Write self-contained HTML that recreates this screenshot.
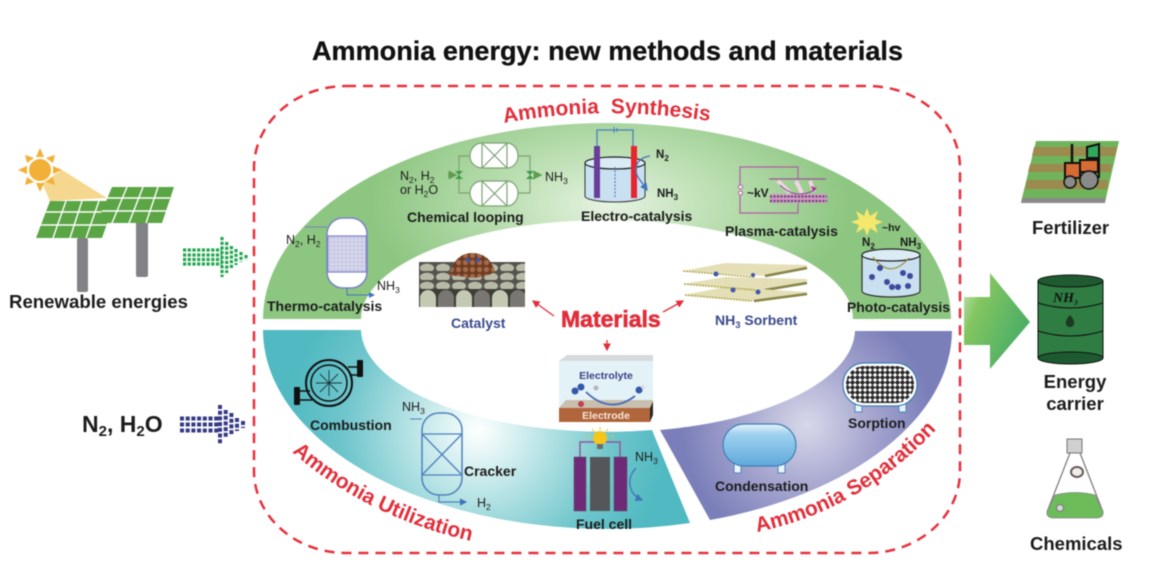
<!DOCTYPE html>
<html><head><meta charset="utf-8"><style>
html,body{margin:0;padding:0;background:#fff;width:1153px;height:579px;overflow:hidden}
svg{display:block;filter:blur(.4px)}
text{font-family:"Liberation Sans",sans-serif;fill:#1c1c1c}
.b{font-weight:700;font-size:14px}
.n{font-size:12.5px;font-weight:400}
.r{font-weight:700;fill:#e02f3b;font-size:21px}
.navy{fill:#3a4a8c;font-weight:700;font-size:14px}
.big{font-weight:700;font-size:18.5px}
</style></head><body>
<svg width="1153" height="579" viewBox="0 0 1153 579" xmlns="http://www.w3.org/2000/svg">
<defs>
<radialGradient id="gG" gradientUnits="userSpaceOnUse" cx="610" cy="205" r="240" gradientTransform="matrix(1 0 0 .5 0 102)"><stop offset="0" stop-color="#e6f3e2"/><stop offset=".4" stop-color="#c0e1b7"/><stop offset="1" stop-color="#8dc681"/></radialGradient>
<radialGradient id="gT" gradientUnits="userSpaceOnUse" cx="478" cy="430" r="190"><stop offset="0" stop-color="#fff"/><stop offset=".25" stop-color="#cdeced"/><stop offset=".7" stop-color="#70c6cc"/><stop offset="1" stop-color="#50b9c1"/></radialGradient>
<radialGradient id="gP" gradientUnits="userSpaceOnUse" cx="807" cy="425" r="125"><stop offset="0" stop-color="#d8d8ea"/><stop offset=".5" stop-color="#a7a7d0"/><stop offset="1" stop-color="#7b7fb9"/></radialGradient>
<linearGradient id="gA" x1="0" y1="0" x2="1" y2=".6"><stop offset="0" stop-color="#cfe8c4"/><stop offset=".3" stop-color="#84c560"/><stop offset="1" stop-color="#45ac67"/></linearGradient>
<linearGradient id="gC" x1="0" y1="0" x2="0" y2="1"><stop offset="0" stop-color="#e8f4fb"/><stop offset=".25" stop-color="#9fd0ef"/><stop offset="1" stop-color="#5fa9dc"/></linearGradient>
<pattern id="dots" width="5" height="5" patternUnits="userSpaceOnUse"><rect width="5" height="5" fill="#fff"/><circle cx="2.5" cy="2.5" r="2.1" fill="#2b2b2b"/><rect x="0" y="2" width="5" height="1" fill="#2b2b2b"/><rect x="2" y="0" width="1" height="5" fill="#2b2b2b"/></pattern>
<pattern id="cat1" width="36" height="18" patternUnits="userSpaceOnUse" x="419" y="289"><rect width="36" height="18" fill="#3f3d38"/><path d="M1,18V9a8,8 0 0 1 16,0V18Z" fill="#c4c9b3"/><path d="M19,18V9a8,8 0 0 1 16,0V18Z" fill="#7a7672"/></pattern>
<pattern id="cat2" width="16" height="9" patternUnits="userSpaceOnUse" x="419" y="262"><rect width="16" height="9" fill="#55534d"/><ellipse cx="8" cy="6" rx="7" ry="4.400" fill="#b8baa8"/></pattern>
<pattern id="cu" width="7" height="7" patternUnits="userSpaceOnUse"><rect width="7" height="7" fill="#6d3d22"/><circle cx="3.5" cy="3.5" r="2.6" fill="#a5694a"/></pattern>
<pattern id="hatch" width="4" height="4" patternUnits="userSpaceOnUse"><rect width="4" height="4" fill="#d3d3ea"/><circle cx="2" cy="2" r="1" fill="#bfc0df"/></pattern>
<marker id="aB" markerWidth="7" markerHeight="7" refX="5" refY="3" orient="auto"><path d="M0,0L6,3L0,6z" fill="#3f74bb"/></marker>
<marker id="aR" markerWidth="7" markerHeight="7" refX="5" refY="3" orient="auto"><path d="M0,0L6,3L0,6z" fill="#e02f3b"/></marker>
<marker id="aG" markerWidth="7" markerHeight="7" refX="5" refY="3" orient="auto"><path d="M0,0L6,3L0,6z" fill="#5f9c4f"/></marker>
<path id="pS" d="M504,123 Q606,104 716,122"/>
<path id="pU" d="M292,452 Q370,520 480,543"/>
<path id="pP" d="M757,532 Q865,510 945,420"/>
</defs>

<text x="312" y="60" font-size="27" font-weight="700" textLength="591" lengthAdjust="spacingAndGlyphs" style="fill:#111;stroke:#111;stroke-width:.3">Ammonia energy: new methods and materials</text>

<rect x="254" y="86" width="706" height="467" rx="92" ry="82" fill="none" stroke="#e8303c" stroke-width="2.5" stroke-dasharray="10 7"/>

<!-- ring -->
<path d="M263,319 A344,196 0 0 1 951,319 L853,319 A246,99 0 0 0 361,319 Z" fill="url(#gG)"/>
<path d="M263,330 A344,199 0 0 0 690,523 L652,430 A246,103 0 0 1 361,330 Z" fill="url(#gT)"/>
<path d="M855,331 L952,331 A344,199 0 0 1 710,520 L660,430 A246,103 0 0 0 855,331 Z" fill="url(#gP)"/>

<text class="r"><textPath href="#pS" startOffset="0">Ammonia&#160;&#160;Synthesis</textPath></text>
<text class="r"><textPath href="#pU">Ammonia Utilization</textPath></text>
<text class="r"><textPath href="#pP">Ammonia Separation</textPath></text>

<!-- solar -->
<rect x="77" y="238" width="11" height="54" rx="2" fill="#808285"/>
<rect x="136" y="222" width="12" height="55" rx="2" fill="#808285"/>
<polygon points="50,201 115,201 102,238 36,238" fill="#5ba545"/>
<path d="M46,212H112M41,225H108M66,201L53,238M82,201L70,238M99,201L86,238" stroke="#fff" stroke-width="1.4"/>
<polygon points="42,183 62,170 107,198 50,201" fill="#f5d78f"/>
<polygon points="112,187 174,187 162,223 97,223" fill="#5ba545"/>
<path d="M107,198H170M102,211H166M127,187L112,223M143,187L129,223M158,187L146,223" stroke="#fff" stroke-width="1.4"/>
<g fill="#f2b038">
<circle cx="40" cy="170" r="11"/>
<polygon points="36,157 40,148 44,157"/><polygon points="36,183 40,192 44,183"/>
<polygon points="27,166 18,170 27,174"/><polygon points="53,166 62,170 53,174"/>
<polygon points="27,163 25,155 34,158"/><polygon points="53,163 55,155 46,158"/>
<polygon points="27,177 25,185 34,182"/><polygon points="53,177 55,185 46,182"/>
</g>
<text x="9" y="308" font-size="18" font-weight="700" textLength="179" lengthAdjust="spacingAndGlyphs">Renewable energies</text>

<!-- dotted arrows -->
<g stroke="#22a650" stroke-width="3.2" stroke-dasharray="3.2 1.5" fill="none">
<path d="M183,250H222M183,255H222M183,259.5H222M183,264H222"/>
<path d="M222,237V277M226.7,242V273M231.4,246V269M236,249V265M241,252V262M246,255V260"/>
</g>
<g stroke="#353a85" stroke-width="4" stroke-dasharray="4 1.7" fill="none">
<path d="M180,418.5H220M180,424.5H220M180,430.5H220"/>
<path d="M220,405V444M225.7,410V438M231.4,413V435M237,418V431M243,421V428"/>
</g>
<text x="82" y="432" font-size="23" font-weight="700">N<tspan font-size="15" dy="4">2</tspan><tspan dy="-4">, H</tspan><tspan font-size="15" dy="4">2</tspan><tspan dy="-4">O</tspan></text>

<!-- thermo -->
<path d="M305,227H327" stroke="#7a83c4" fill="none"/>
<rect x="327" y="218" width="40" height="70" rx="16" fill="#fff" stroke="#7a83c4" stroke-width="1.5"/>
<rect x="327.7" y="236" width="38.6" height="36" fill="url(#hatch)" stroke="#7a83c4" stroke-width="1.2"/>
<path d="M347,288V295H374" stroke="#3f74bb" fill="none" marker-end="url(#aB)"/>
<text class="n" x="286" y="244">N<tspan font-size="8.5" dy="3">2</tspan><tspan dy="-3">, H</tspan><tspan font-size="8.5" dy="3">2</tspan></text>
<text class="n" x="377" y="290">NH<tspan font-size="8.5" dy="3">3</tspan></text>
<text class="b" x="267" y="311">Thermo-catalysis</text>

<!-- chemical looping -->
<g fill="#fff" stroke="#7da373" stroke-width="1.2">
<path d="M470,156a12,13 0 0 1 12,-13H507a11,13 0 0 1 11,13a11,12 0 0 1 -11,12H482a12,12 0 0 1 -12,-12Z"/>
<path d="M470,193a12,12 0 0 1 12,-12H507a11,12 0 0 1 11,12a11,13 0 0 1 -11,13H482a12,13 0 0 1 -12,-13Z"/>
<path d="M482,143V168M507,143V168M482,143L507,168M507,143L482,168M482,181V206M507,181V206M482,181L507,206M507,181L482,206" fill="none"/>
<path d="M470,156H459V193H470M518,156H530V193H518" fill="none"/>
</g>
<path d="M448,175H456" stroke="#7da373" stroke-width="1.5" marker-end="url(#aG)"/>
<path d="M536,175H541" stroke="#5f9c4f" stroke-width="1.5" marker-end="url(#aG)"/>
<path d="M455,171L463,171L455,179L463,179ZM526,171L534,171L526,179L534,179Z" fill="#3f9a4b"/>
<text class="n" x="400" y="180">N<tspan font-size="8.5" dy="3">2</tspan><tspan dy="-3">, H</tspan><tspan font-size="8.5" dy="3">2</tspan></text>
<text class="n" x="400" y="194">or H<tspan font-size="8.5" dy="3">2</tspan><tspan dy="-3">O</tspan></text>
<text class="n" x="545" y="181">NH<tspan font-size="8.5" dy="3">3</tspan></text>
<text class="b" x="407" y="222">Chemical looping</text>

<!-- electro -->
<path d="M585,163V196a30,6 0 0 0 60,0V163Z" fill="#c9e0f0" stroke="#333" stroke-width="1"/>
<ellipse cx="615" cy="163" rx="30" ry="6" fill="#d9ebf5" stroke="#222" stroke-width="1.2"/>
<path d="M615,167V198" stroke="#3f74bb" stroke-dasharray="2 1.5"/>
<path d="M597,146V130H633V146" fill="none" stroke="#4a7fc0" stroke-width="1.3"/>
<path d="M614,127V133M617,128V132" stroke="#4a7fc0" stroke-width="1"/>
<rect x="594" y="146" width="6" height="52" fill="#6a3d9a"/>
<rect x="631" y="146" width="6" height="52" fill="#e6262e"/>
<path d="M650,156C636,158 632,170 640,180L647,190" fill="none" stroke="#3f74bb" stroke-width="1.3" marker-end="url(#aB)"/>
<text x="656" y="158" font-size="11.5" font-weight="700">N<tspan font-size="8" dy="3">2</tspan></text>
<text x="657" y="197" font-size="11.5" font-weight="700">NH<tspan font-size="8" dy="3">3</tspan></text>
<text class="b" x="581" y="221">Electro-catalysis</text>

<!-- plasma -->
<path d="M740,185V167H798V179M740,195V213H798V203" fill="none" stroke="#b45ea8" stroke-width="1.2"/>
<circle cx="740.5" cy="187" r="2" fill="#fff" stroke="#b45ea8"/><circle cx="740.5" cy="193" r="2" fill="#fff" stroke="#b45ea8"/>
<path d="M769,179H826" stroke="#a0569c" stroke-width="1.3"/>
<rect x="770" y="194" width="57" height="9" fill="#d294c8"/>
<path d="M770,196.5H827M770,201H827" stroke="#5a4a5c" stroke-width="2" stroke-dasharray="2 1.5"/>
<path d="M778,181L790,193M796,181L802,193M810,181L814,192" stroke="#f3d5e5" stroke-width="4"/>
<path d="M780,185Q795,200 815,190" fill="none" stroke="#8c4f94" stroke-width="1"/>
<polygon points="811,186 817,188 813,192" fill="#a83f9c"/>
<text x="747" y="197" font-size="12" font-weight="700">~kV</text>
<text class="b" x="725" y="236">Plasma-catalysis</text>

<!-- photo -->
<polygon points="867,208 870,216 878,211 875,219 883,222 875,225 878,233 870,228 867,236 864,228 856,233 859,225 851,222 859,219 856,211 864,216" fill="#f5e76c"/>
<text x="882" y="231" font-size="10.5" font-weight="700">~hv</text>
<path d="M862,255V291a29,6 0 0 0 58,0V255Z" fill="#c9e0f0" stroke="#333" stroke-width="1.2"/>
<ellipse cx="891" cy="255" rx="29" ry="6" fill="#dcecf5" stroke="#222" stroke-width="1.2"/>
<path d="M873,257Q890,280 909,258" fill="none" stroke="#9a8f3a" stroke-width="1.2"/>
<g fill="#3e4a9e"><circle cx="880" cy="268" r="3"/><circle cx="872" cy="277" r="3"/><circle cx="887" cy="282" r="3"/><circle cx="892" cy="287" r="3"/><circle cx="898" cy="287" r="3"/><circle cx="903" cy="273" r="3"/><circle cx="910" cy="276" r="3"/><circle cx="908" cy="286" r="3"/></g>
<text x="862" y="246" font-size="11.5" font-weight="700">N<tspan font-size="8" dy="3">2</tspan></text>
<text x="900" y="246" font-size="11.5" font-weight="700">NH<tspan font-size="8" dy="3">3</tspan></text>
<text class="b" x="847" y="312" textLength="103" lengthAdjust="spacingAndGlyphs">Photo-catalysis</text>

<!-- centre -->
<rect x="419" y="262" width="106" height="27" fill="url(#cat2)"/>
<rect x="419" y="289" width="106" height="18" fill="url(#cat1)"/>
<path d="M449,275Q455,253 472,253Q490,253 495,272Q480,280 465,277Z" fill="url(#cu)"/>
<circle cx="468" cy="260" r="2" fill="#3b55b8"/><circle cx="478" cy="260" r="2" fill="#3b55b8"/>
<text class="navy" x="451" y="328">Catalyst</text>
<text x="561" y="327" font-size="23" font-weight="700" style="fill:#e02f3b;stroke:#e02f3b;stroke-width:.6">Materials</text>
<path d="M554,316L533,301" stroke="#e02f3b" stroke-width="1.3" marker-end="url(#aR)"/>
<path d="M663,312L683,301" stroke="#e02f3b" stroke-width="1.3" marker-end="url(#aR)"/>
<path d="M607,340V350" stroke="#e02f3b" stroke-width="1.3" marker-end="url(#aR)"/>
<g>
<polygon points="683,271 725,263 807,265 807,268 765,276" fill="#e4dfb6"/><path d="M765,276L807,268" stroke="#86854a" stroke-width="2.5"/>
<polygon points="683,284 725,277 807,279 807,282 765,290" fill="#e4dfb6"/><path d="M765,290L807,283" stroke="#86854a" stroke-width="2.5"/>
<polygon points="684,295 725,287 807,292 807,295 755,301" fill="#e4dfb6"/><path d="M754,301L807,294" stroke="#86854a" stroke-width="2.5"/>
<path d="M683,271L755,277M684,284L755,290M685,295L752,301" stroke="#b3a94e" stroke-width="1.6" stroke-dasharray="2 1"/>
<g fill="#3e5aa8"><circle cx="716" cy="274" r="2.5"/><circle cx="753" cy="275" r="2"/><circle cx="733" cy="290" r="2.5"/><circle cx="758" cy="292" r="2.5"/></g>
</g>
<text class="navy" x="715" y="325">NH<tspan font-size="9.5" dy="3">3</tspan><tspan dy="-3"> Sorbent</tspan></text>

<polygon points="559,361 567,355 653,355 653,401 559,408" fill="#e3f2f6"/>
<polygon points="559,361 567,355 653,355 653,361" fill="#d6dadd"/>
<polygon points="566,400 653,400 650,408 559,408" fill="#c9bfae"/>
<polygon points="559,408 650,408 650,422 559,422" fill="#b0663a"/>
<polygon points="650,408 653,401 653,415 650,422" fill="#2a2622"/>
<text x="606" y="379" font-size="10.5" font-weight="700" text-anchor="middle" style="fill:#3b4288">Electrolyte</text>
<text x="606" y="419" font-size="10.5" font-weight="700" text-anchor="middle" style="fill:#f4e6da">Electrode</text>
<path d="M586,392Q610,415 635,396" fill="none" stroke="#4a6cb5" stroke-width="1.8"/>
<circle cx="575" cy="391" r="3.5" fill="#3558aa"/><circle cx="581" cy="387" r="3.5" fill="#3558aa"/>
<circle cx="596" cy="388" r="2.5" fill="#b5b5b5"/><circle cx="581" cy="404" r="3" fill="#c24050"/>
<circle cx="639" cy="390" r="3.5" fill="#3558aa"/><circle cx="643" cy="387" r="2" fill="#ddd"/>

<!-- combustion -->
<rect x="294" y="387" width="6" height="18" rx="1" fill="#111"/><rect x="357" y="360" width="6" height="17" rx="1" fill="#111"/>
<path d="M300,391H310M300,400H312M348,367H357M350,375H357" stroke="#111" stroke-width="1.5"/>
<circle cx="329" cy="383" r="23" fill="none" stroke="#111" stroke-width="2"/>
<circle cx="329" cy="383" r="18" fill="none" stroke="#111" stroke-width="1.5"/>
<path d="M329,370V396M316,383H342M320,374L338,392M338,374L320,392" stroke="#1c3a3c" stroke-width=".9"/>
<text class="b" x="310" y="430">Combustion</text>

<!-- cracker -->
<rect x="422" y="413" width="40" height="82" rx="17" fill="none" stroke="#4f81bd" stroke-width="1.5"/>
<path d="M422,434H462M422,475H462M422,434L462,475M462,434L422,475" stroke="#4f81bd" stroke-width="1.3"/>
<path d="M410,419H422" stroke="#4f81bd"/>
<path d="M439,495V502H466" fill="none" stroke="#4f81bd" stroke-width="1.2" marker-end="url(#aB)"/>
<text class="n" x="402" y="411">NH<tspan font-size="8.5" dy="3">3</tspan></text>
<text class="b" x="464" y="476">Cracker</text>
<text class="n" x="477" y="507">H<tspan font-size="8.5" dy="3">2</tspan></text>

<!-- fuel cell -->
<path d="M580,457V442H620V457" fill="none" stroke="#8d5a9c" stroke-width="1.5"/>
<circle cx="600" cy="438" r="7" fill="#f5c518"/><rect x="597" y="444" width="6" height="5" fill="#6d6d6d"/>
<path d="M600,427V430M592,429L594,431M608,429L606,431M589,436H586M611,436H614" stroke="#f5c518"/>
<rect x="574" y="457" width="12" height="54" fill="#6e2a78" stroke="#555" stroke-width=".5"/>
<rect x="590" y="457" width="20" height="54" fill="#55565a"/>
<rect x="614" y="457" width="13" height="54" fill="#6e2a78" stroke="#555" stroke-width=".5"/>
<path d="M636,468C626,478 628,494 642,500" fill="none" stroke="#3f74bb" stroke-width="1.3" marker-end="url(#aB)"/>
<text class="n" x="635" y="461">NH<tspan font-size="8.5" dy="3">3</tspan></text>
<text class="b" x="576" y="529">Fuel cell</text>

<!-- condensation, sorption -->
<rect x="734" y="464" width="7" height="9" fill="#e8f3fa" stroke="#4f86b8"/><rect x="778" y="464" width="7" height="9" fill="#e8f3fa" stroke="#4f86b8"/>
<rect x="723" y="424" width="73" height="42" rx="21" fill="url(#gC)" stroke="#3e7fb5" stroke-width="1.2"/>
<text class="b" x="715" y="491">Condensation</text>
<rect x="855" y="404" width="7" height="8" fill="#e8f3fa" stroke="#4f86b8"/><rect x="899" y="404" width="7" height="8" fill="#e8f3fa" stroke="#4f86b8"/>
<rect x="843" y="363" width="74" height="43" rx="21" fill="#fff" stroke="#3e7fb5" stroke-width="1.2"/>
<rect x="846" y="366" width="68" height="37" rx="18" fill="url(#dots)"/>
<text class="b" x="848" y="428">Sorption</text>

<!-- big arrow -->
<polygon points="964,297 990,297 990,273 1030,322 990,369 990,345 964,345" fill="url(#gA)"/>

<!-- fertilizer -->
<polygon points="1022,198 1106,198 1105,203 1021,203" fill="#8a8a8a"/>
<polygon points="1036,141 1119,141 1106,198 1022,198" fill="#6fb35a"/>
<g fill="#9c8a4e"><polygon points="1034,147 1117,147 1115,156 1032,156"/><polygon points="1030,164 1112,164 1110,172 1028,172"/><polygon points="1027,180 1108,180 1107,189 1025,189"/></g>
<polygon points="1087,147 1099,144 1099,158 1087,158" fill="#2fa85c" stroke="#111" stroke-width="2"/>
<path d="M1072,144V163" stroke="#111" stroke-width="2.5"/>
<rect x="1065" y="163" width="15" height="15" fill="#d66b34" stroke="#111" stroke-width="2"/>
<rect x="1080" y="160" width="18" height="12" fill="#d66b34" stroke="#111" stroke-width="2"/>
<path d="M1099,144V178" stroke="#111" stroke-width="2"/>
<circle cx="1070" cy="182" r="6" fill="#8a8a8a" stroke="#111" stroke-width="1.5"/>
<circle cx="1089" cy="180" r="9" fill="#8a8a8a" stroke="#111" stroke-width="1.5"/>
<text x="1032" y="234" class="big">Fertilizer</text>

<!-- barrel -->
<path d="M1038,281V357a32.5,6 0 0 0 65,0V281Z" fill="#2f7d43" stroke="#111" stroke-width="1"/>
<ellipse cx="1070.5" cy="281" rx="32.5" ry="6" fill="#1f5a30" stroke="#111"/>
<ellipse cx="1070.5" cy="358" rx="32.5" ry="6" fill="#1d5a30" stroke="#111"/>
<path d="M1038,303Q1070,313 1103,303M1038,331Q1070,341 1103,331" fill="none" stroke="#111" stroke-width="1"/>
<text x="1053" y="302" font-size="14" font-weight="700" font-style="italic" style="font-family:'Liberation Serif',serif;fill:#111">NH<tspan font-size="7" dy="3">3</tspan></text>
<path d="M1070,315C1064,321 1065,327 1070,327C1075,327 1076,321 1070,315Z" fill="#1a3a22"/>
<text x="1075" y="388" class="big" text-anchor="middle">Energy</text>
<text x="1075" y="410" class="big" text-anchor="middle">carrier</text>

<!-- flask -->
<rect x="1067" y="439" width="15" height="14" fill="#d0d0d0" stroke="#777"/>
<path d="M1047,512L1070,453M1080,453L1103,512" stroke="#777" stroke-width="1.2" fill="none"/>
<path d="M1055,495Q1075,490 1095,495L1103,512Q1104,518 1095,518H1055Q1046,518 1047,512Z" fill="#6cbc5a" stroke="#888" stroke-width=".8"/>
<ellipse cx="1077" cy="472" rx="6" ry="5" fill="#eee" stroke="#6a5b54" stroke-width="2"/>
<circle cx="1060" cy="508" r="3.5" fill="#d5d5d5" stroke="#777"/>
<text x="1030" y="550" class="big">Chemicals</text>
</svg>
</body></html>
